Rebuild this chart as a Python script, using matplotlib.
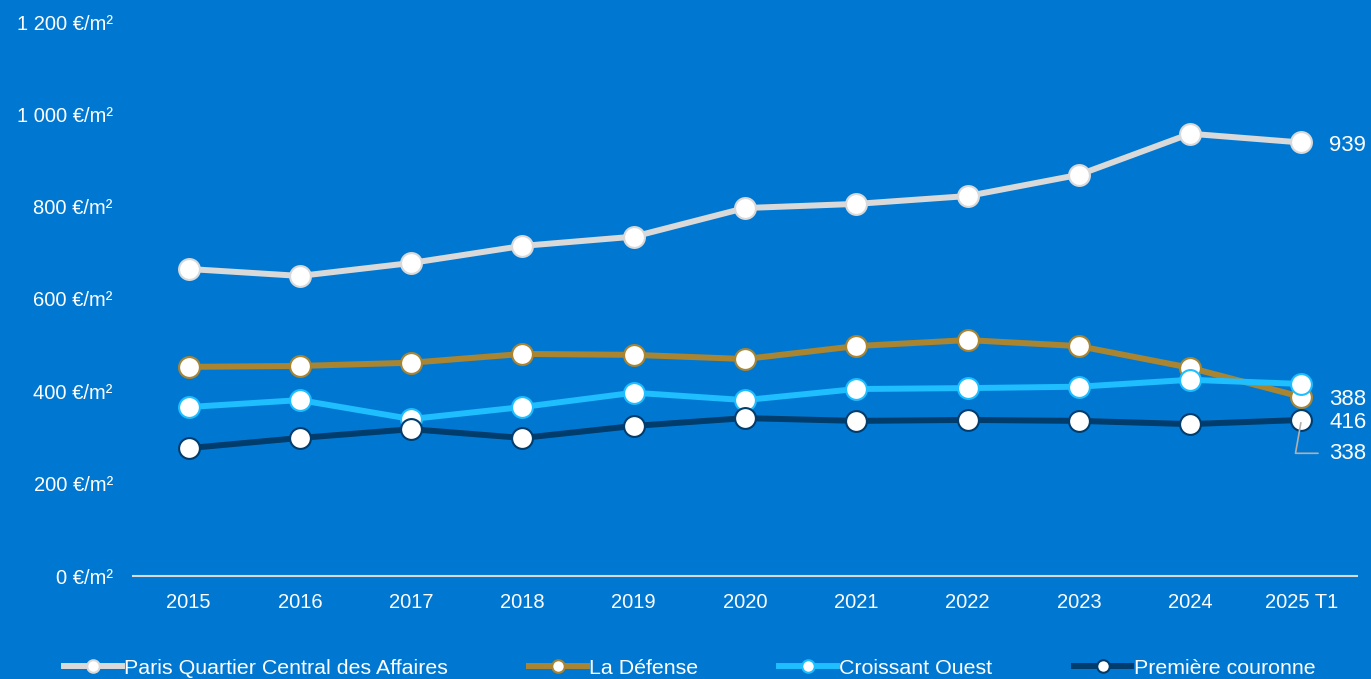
import matplotlib.pyplot as plt
from matplotlib.lines import Line2D

plt.rcParams['font.family'] = ['Liberation Sans', 'DejaVu Sans']

years = ['2015', '2016', '2017', '2018', '2019', '2020', '2021', '2022', '2023', '2024', '2025 T1']
paris_qca = [665, 650, 678, 715, 735, 797, 806, 823, 869, 958, 939]
la_defense = [453, 455, 462, 481, 479, 470, 498, 511, 498, 451, 388]
croissant_ouest = [366, 381, 340, 366, 397, 381, 405, 407, 410, 425, 416]
premiere_couronne = [277, 299, 318, 299, 325, 342, 336, 338, 336, 329, 338]

series = [
    ('Paris Quartier Central des Affaires', paris_qca, '#D9D9D9'),
    ('La Défense', la_defense, '#A98532'),
    ('Croissant Ouest', croissant_ouest, '#1EBEFF'),
    ('Première couronne', premiere_couronne, '#003C6C'),
]

bg = '#0078D2'
fig = plt.figure(figsize=(13.71, 6.79), dpi=100, facecolor=bg)
ax = fig.add_axes([133 / 1371, 1 - 576 / 679, 1224 / 1371, 554 / 679])
ax.set_facecolor(bg)

x = list(range(len(years)))
for name, vals, col in series:
    ax.plot(x, vals, color=col, lw=4.3, marker='o', ms=15,
            mfc='white', mec=col, mew=1.5, label=name, zorder=3)

ax.set_xlim(-0.5, len(years) - 0.5)
ax.set_ylim(0, 1200)
ax.set_yticks(range(0, 1201, 200))
ax.set_yticklabels([f'{v:,} €/m²'.replace(',', ' ') for v in range(0, 1201, 200)])
ax.set_xticks(x)
ax.set_xticklabels(years)
ax.tick_params(axis='y', length=0, pad=14.5, labelsize=14.5, labelcolor='white')
ax.tick_params(axis='x', length=0, pad=12, labelsize=14.5, labelcolor='white')
for s in ['top', 'right', 'left']:
    ax.spines[s].set_visible(False)
ax.spines['bottom'].set_color('#D9D9D9')
ax.spines['bottom'].set_linewidth(1.5)

# end-of-line value labels
last = len(years) - 1
lab = dict(textcoords='offset points', color='white', fontsize=16, va='center')
ax.annotate(f'{paris_qca[-1]}', (last, paris_qca[-1]), xytext=(20, -2), **lab)
ax.annotate(f'{la_defense[-1]}', (last, la_defense[-1]), xytext=(20, -2), **lab)
ax.annotate(f'{croissant_ouest[-1]}', (last, croissant_ouest[-1]), xytext=(20, -28), **lab)
ax.annotate(f'{premiere_couronne[-1]}', (last, premiere_couronne[-1]), xytext=(20, -24),
            arrowprops=dict(arrowstyle='-', color='#B0B0B0', lw=1.2,
                            connectionstyle='angle,angleA=0,angleB=80,rad=0',
                            shrinkA=6, shrinkB=2), **lab)

handles = [Line2D([], [], color=col, lw=4.3, marker='o', ms=9, mfc='white',
                  mec=col, mew=1.5) for _, _, col in series]
fig.legend(handles, [s[0] for s in series], loc='center', ncol=4,
           bbox_to_anchor=(0.503, 1 - 668 / 679), frameon=False, fontsize=15.4,
           labelcolor='white', handlelength=2.7, handletextpad=0.1, columnspacing=3.8)

fig.savefig('out.png', dpi=100, facecolor=bg)
